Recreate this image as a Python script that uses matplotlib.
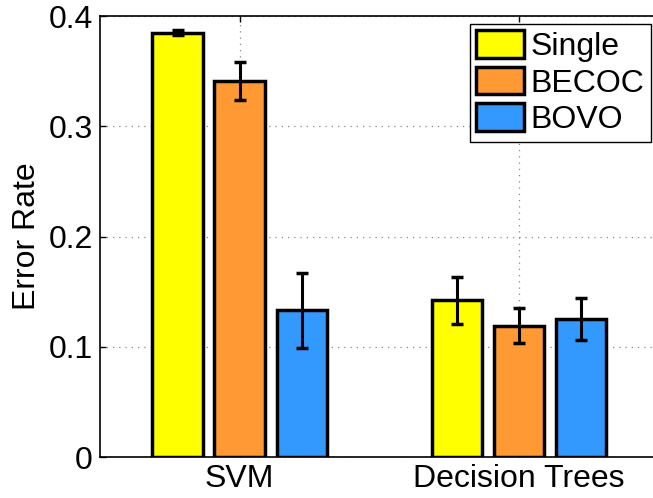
import numpy as np
import matplotlib.pyplot as plt

plt.rcParams['font.family'] = ['Liberation Sans', 'DejaVu Sans']

# Data
groups = ['SVM', 'Decision Trees']
methods = ['Single', 'BECOC', 'BOVO']
single = [0.385, 0.142]
becoc = [0.341, 0.119]
bovo = [0.133, 0.125]
single_err = [0.0025, 0.021]
becoc_err = [0.017, 0.016]
bovo_err = [0.034, 0.019]
yticks = [0, 0.1, 0.2, 0.3, 0.4]

COLORS = ['#FFFF00', '#FF9933', '#3399FF']
FS = 23

fig = plt.figure(figsize=(6.53, 4.98), dpi=100)
ax = fig.add_axes([0.153, 0.0823, 0.856, 0.8855])

x = np.arange(1, len(groups) + 1)
width = 0.18
offsets = [-0.222, 0, 0.222]
series = [single, becoc, bovo]
errs = [single_err, becoc_err, bovo_err]

for vals, err, off, col, name in zip(series, errs, offsets, COLORS, methods):
    ax.bar(x + off, vals, width, color=col, edgecolor='black', linewidth=2.5,
           label=name, zorder=2)
    ax.errorbar(x + off, vals, yerr=err, fmt='none', ecolor='black',
                elinewidth=2.2, capsize=4.5, capthick=2.5, zorder=3)

ax.set_xlim(0.5, 2.5)
ax.set_ylim(0, 0.4)
ax.set_xticks(x)
ax.set_xticklabels(groups, fontsize=FS)
ax.set_yticks(yticks)
ax.set_yticklabels(['0', '0.1', '0.2', '0.3', '0.4'], fontsize=FS)
ax.set_ylabel('Error Rate', fontsize=FS, labelpad=5)

ax.grid(True, linestyle=(0, (1, 4)), color='#888888', linewidth=0.9, zorder=0)
ax.set_axisbelow(True)
ax.tick_params(direction='in', length=4, width=1, top=True, right=True, pad=5)
for s in ax.spines.values():
    s.set_linewidth(1.2)

leg = ax.legend(loc='upper right', bbox_to_anchor=(0.9857, 0.982), fontsize=FS,
                fancybox=False, edgecolor='black', framealpha=1,
                handlelength=1.5, handleheight=0.95, handletextpad=0.2,
                borderpad=0.2, labelspacing=0.15, borderaxespad=0)
leg.get_frame().set_linewidth(1.0)

plt.savefig('out.png', dpi=100)
